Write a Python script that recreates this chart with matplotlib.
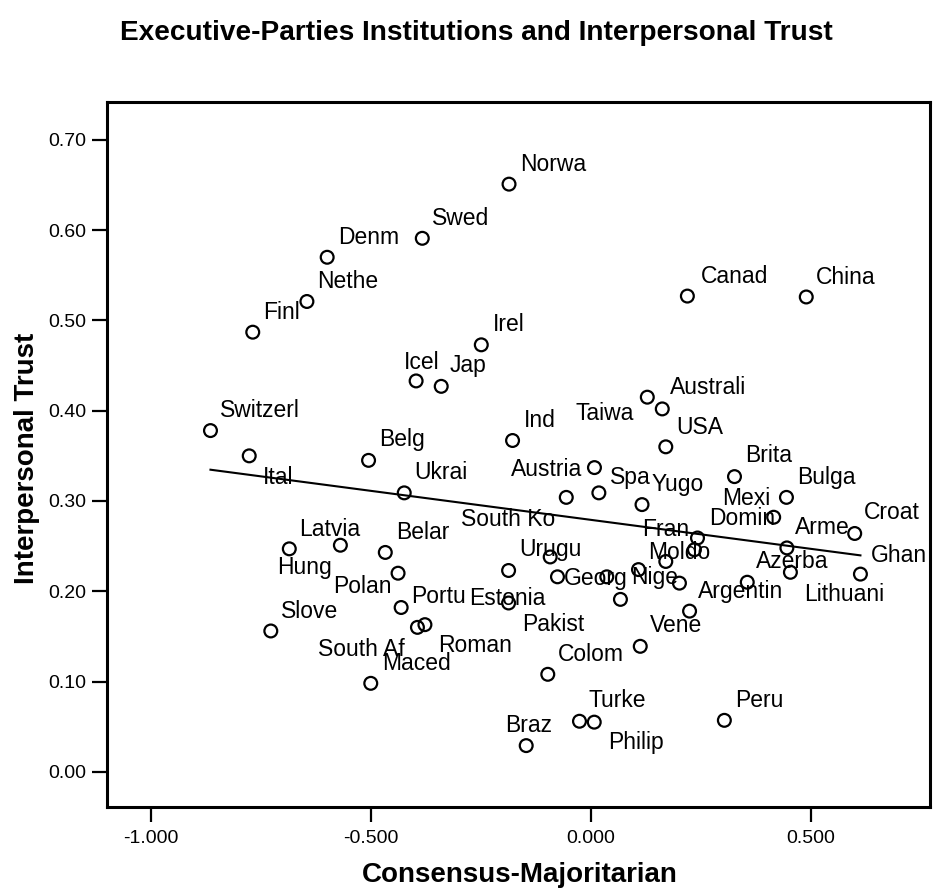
import numpy as np
import matplotlib
matplotlib.use("Agg")
import matplotlib.pyplot as plt
from matplotlib.ticker import FormatStrFormatter

plt.rcParams['font.family'] = ['Liberation Sans', 'DejaVu Sans']
plt.rcParams['axes.unicode_minus'] = False

# Data: consensus-majoritarian score (x) and interpersonal trust (y)
countries = ["Norwa", "Swed", "Denm", "Nethe", "Finl", "Irel", "Icel", "Jap",
             "Canad", "China", "Australi", "Taiwa", "USA", "Switzerl", "Ind",
             "Ital", "Belg", "Ukrai", "Austria", "South Ko", "Spa", "Yugo",
             "Brita", "Bulga", "Mexi", "Croat", "Fran", "Moldo", "Arme", "Domin",
             "Hung", "Latvia", "Belar", "Georg", "Urugu", "Estonia", "", "", "",
             "Lithuani", "Ghan", "Azerba", "Polan", "Portu", "Pakist", "Nige",
             "Argentin", "Slove", "South Af", "Roman", "Vene", "Maced", "Colom",
             "Turke", "Philip", "Peru", "Braz"]
consensus = [-0.186, -0.383, -0.599, -0.645, -0.768, -0.249, -0.397, -0.340,
             0.219, 0.489, 0.128, 0.162, 0.170, -0.864, -0.178,
             -0.776, -0.505, -0.424, 0.008, -0.056, 0.018, 0.116,
             0.326, 0.444, 0.415, 0.599, 0.242, 0.235, 0.445, 0.170,
             -0.569, -0.685, -0.467, -0.0925, -0.187, -0.076, 0.036, 0.108, 0.201,
             0.453, 0.612, 0.355, -0.438, -0.431, -0.187, 0.067,
             0.224, -0.727, -0.394, -0.377, 0.112, -0.500, -0.098,
             -0.026, 0.0075, 0.303, -0.147]
trust = [0.651, 0.591, 0.570, 0.521, 0.487, 0.473, 0.433, 0.427,
         0.527, 0.526, 0.415, 0.402, 0.360, 0.378, 0.367,
         0.350, 0.345, 0.309, 0.337, 0.304, 0.309, 0.296,
         0.327, 0.304, 0.282, 0.264, 0.259, 0.246, 0.248, 0.233,
         0.251, 0.247, 0.243, 0.238, 0.223, 0.216, 0.216, 0.224, 0.209,
         0.221, 0.219, 0.210, 0.220, 0.182, 0.187, 0.191,
         0.178, 0.156, 0.160, 0.163, 0.139, 0.098, 0.108,
         0.056, 0.055, 0.057, 0.029]

# label offsets in pixels from the point (right, down)
label_offsets = [(10.6, -13.6), (10, -13.7), (10.7, -13), (10.6, -13), (10.6, -13.4),
                 (11.3, -14), (-12.7, -12), (8.3, -14),
                 (14, -13), (10, -13), (23, -3), (-87, 11), (10.4, -13.3), (10, -13.4),
                 (11.5, -13.7),
                 (14, 28.3), (10.6, -14.3), (10.3, -14), (-84, 8), (-105.3, 28.7),
                 (11.3, -9), (10, -13.3),
                 (11, -15), (10.7, -13.7), (-51.6, -12.3), (9, -14), (-55.3, -1.6),
                 (-46, 8.8), (8.3, -13.7), (43, -36.7),
                 (-63.6, 29), (10, -13.3), (10.7, -13.6), (14, 28.3), (10.7, -14),
                 (-88, 28.4), (0, 0), (0, 0), (0, 0),
                 (13.3, 28.3), (10, -12.6), (8.3, -14.4), (-64.7, 20), (10, -4.6),
                 (14, 28.4), (11, -15.3),
                 (8.4, -13.6), (9.7, -13.3), (-99, 29), (12.7, 27.7), (9.3, -14),
                 (11, -13.3), (9.6, -13.6),
                 (9, -14), (14.3, 27.3), (11, -13.7), (-21, -13.3)]

x = np.array(consensus)
y = np.array(trust)

fig = plt.figure(figsize=(9.51, 8.92), dpi=100)
ax = fig.add_axes([107 / 951, (892 - 807) / 892, (930 - 107) / 951, (807 - 102) / 892])

ax.scatter(x, y, s=85, facecolors='none', edgecolors='black', linewidths=1.6, zorder=3)

# fit line over the data range
slope, intercept = np.polyfit(x, y, 1)
xs = np.array([x.min(), x.max()])
ax.plot(xs, slope * xs + intercept, color='black', linewidth=1.5, zorder=2)

for name, xi, yi, (dx, dy) in zip(countries, x, y, label_offsets):
    if name:
        ax.annotate(name, (xi, yi), xytext=(dx, -dy), textcoords='offset pixels',
                    ha='left', va='baseline', fontsize=16.5, color='black')

ax.set_xlim(-1.099, 0.770)
ax.set_ylim(-0.039, 0.742)
ax.set_xticks([-1.0, -0.5, 0.0, 0.5])
ax.set_yticks([0.0, 0.1, 0.2, 0.3, 0.4, 0.5, 0.6, 0.7])
ax.xaxis.set_major_formatter(FormatStrFormatter('%.3f'))
ax.yaxis.set_major_formatter(FormatStrFormatter('%.2f'))
ax.tick_params(direction='out', length=10.8, width=1.6, labelsize=14)
ax.tick_params(axis='x', pad=6)
ax.tick_params(axis='y', pad=4.3)
for sp in ax.spines.values():
    sp.set_linewidth(2.2)

fig.text(476 / 951, 1 - 33 / 892, "Executive-Parties Institutions and Interpersonal Trust",
         ha='center', va='center', fontsize=20.2, fontweight='bold')
fig.text(520 / 951, 1 - 875 / 892, "Consensus-Majoritarian",
         ha='center', va='center', fontsize=20, fontweight='bold')
fig.text(27 / 951, 1 - 458 / 892, "Interpersonal Trust", rotation=90,
         ha='center', va='center', fontsize=20, fontweight='bold')

plt.savefig("out.png", dpi=100)
